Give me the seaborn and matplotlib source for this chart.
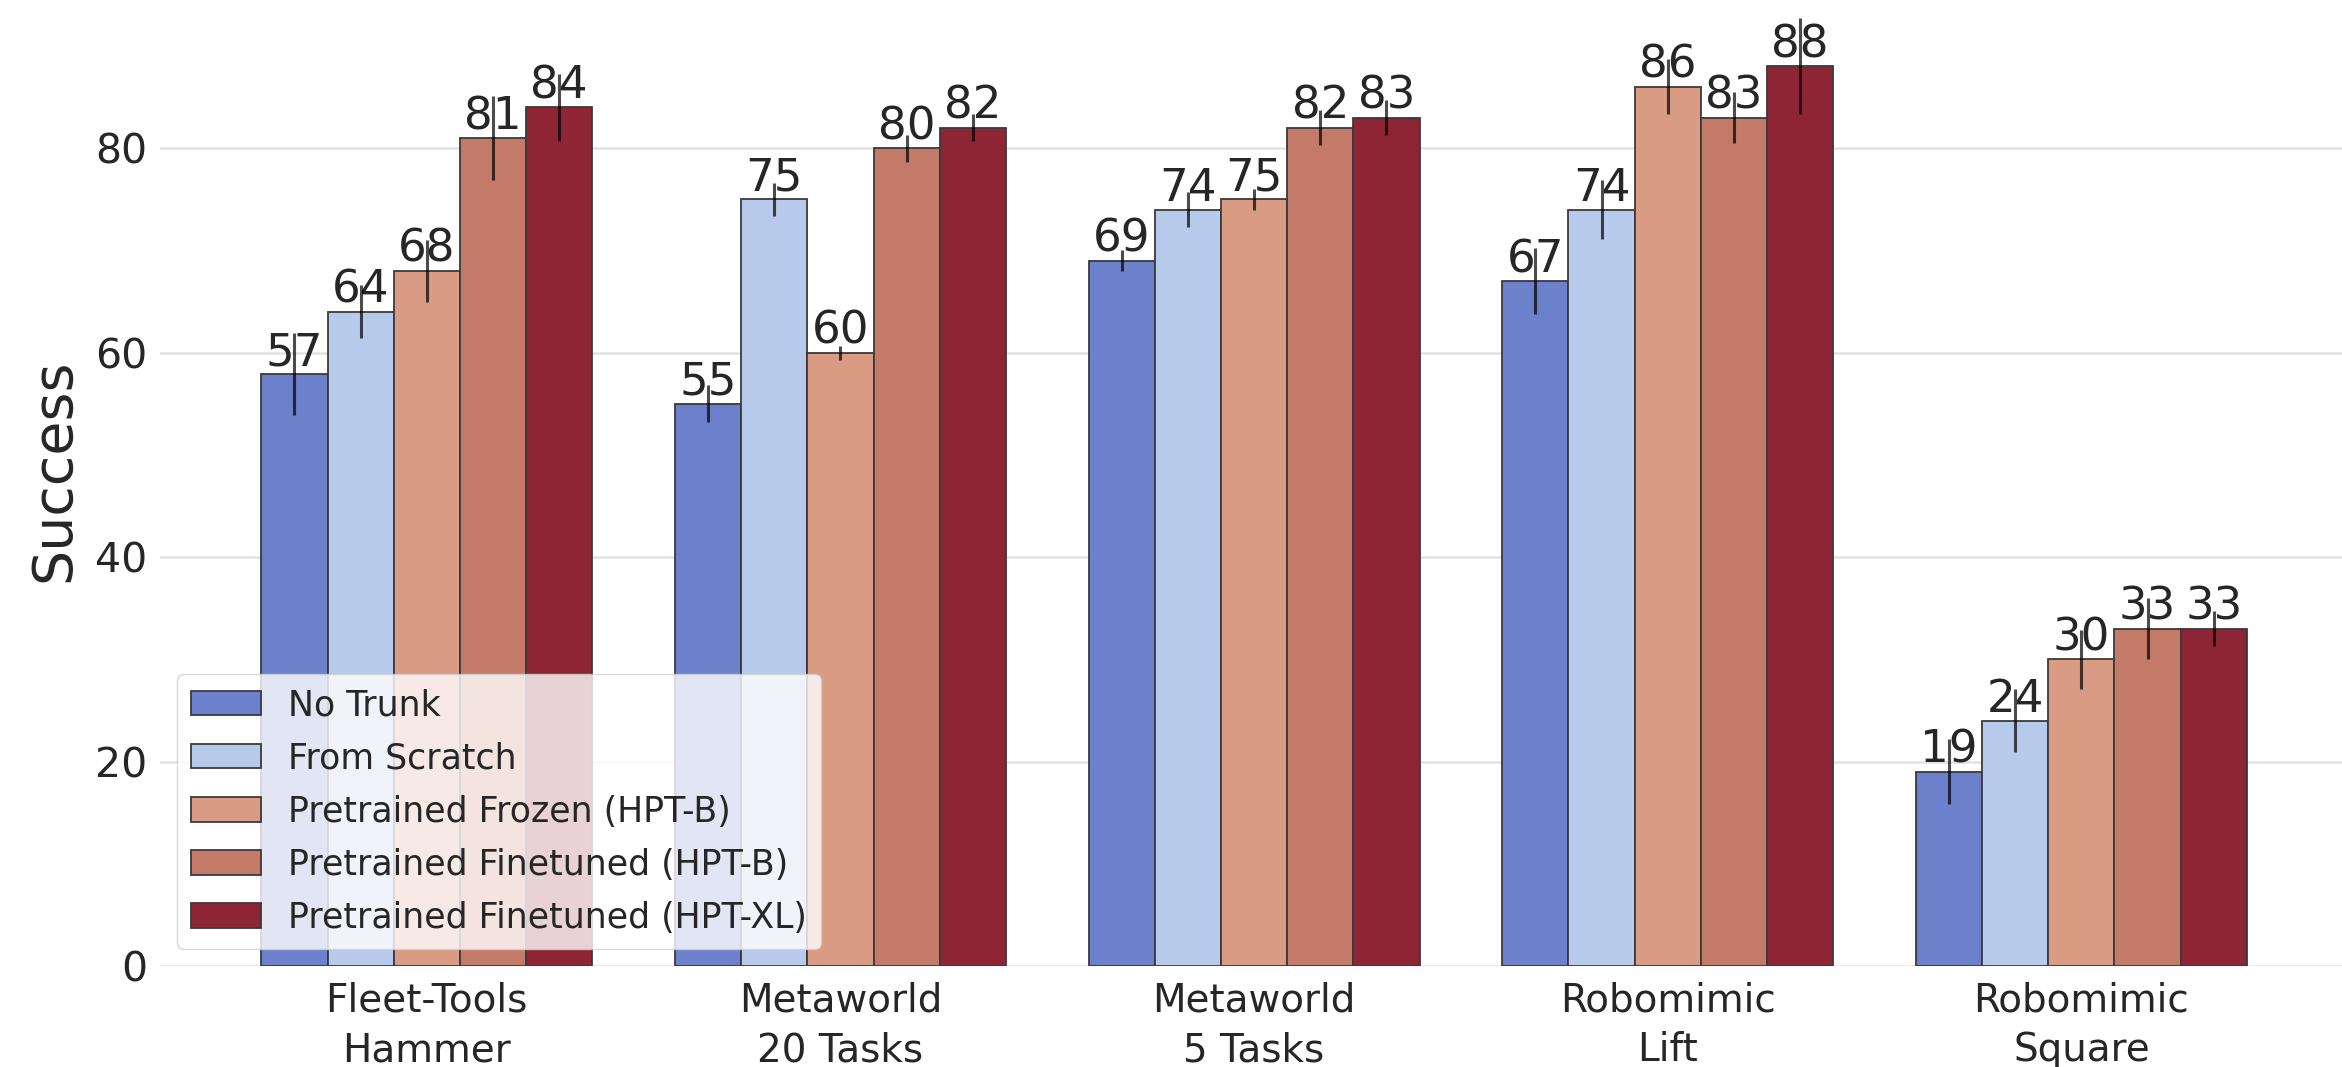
import matplotlib
matplotlib.use("Agg")
import matplotlib.pyplot as plt
import numpy as np
import pandas as pd
import seaborn as sns

# Benchmarks (x categories) and methods (hue levels)
tasks = ["Fleet-Tools\nHammer", "Metaworld\n20 Tasks", "Metaworld\n5 Tasks",
         "Robomimic\nLift", "Robomimic\nSquare"]
methods = ["No Trunk", "From Scratch", "Pretrained Frozen (HPT-B)",
           "Pretrained Finetuned (HPT-B)", "Pretrained Finetuned (HPT-XL)"]

# Mean success per method, one value per task
no_trunk = [57.9, 55, 69, 67, 19]
from_scratch = [64, 75, 74, 74, 24]
frozen_b = [68, 60, 75, 86, 30]
finetuned_b = [81, 80, 82, 83, 33]
finetuned_xl = [84, 82, 83, 88, 33]

# Spread (half-length of the error bar) per method, one value per task
no_trunk_err = [4.0, 1.8, 1.0, 3.2, 3.2]
from_scratch_err = [2.6, 1.6, 1.7, 2.9, 3.1]
frozen_b_err = [3.0, 0.7, 1.0, 2.7, 2.9]
finetuned_b_err = [4.1, 1.3, 1.7, 2.5, 3.0]
finetuned_xl_err = [3.3, 1.3, 1.7, 4.7, 1.7]

colors = ["#6C80CB", "#B8CAEB", "#D99B84", "#C47A68", "#8E2535"]

means = [no_trunk, from_scratch, frozen_b, finetuned_b, finetuned_xl]
errs = [no_trunk_err, from_scratch_err, frozen_b_err, finetuned_b_err, finetuned_xl_err]

df = pd.DataFrame(
    [(t, m, means[j][i]) for j, m in enumerate(methods) for i, t in enumerate(tasks)],
    columns=["task", "method", "success"],
)

sns.set_theme(style="whitegrid")
plt.rcParams["font.family"] = ["DejaVu Sans"]
text_color = "#262626"

fig = plt.figure(figsize=(23.42, 10.67), dpi=100)
ax = fig.add_axes([160 / 2342, 101 / 1067, (2342 - 160) / 2342, 966 / 1067])

sns.barplot(data=df, x="task", y="success", hue="method", order=tasks,
            hue_order=methods, palette=colors, saturation=1, errorbar=None,
            edgecolor="#3a3a3a", linewidth=1.3, width=0.8, ax=ax)

# error bars and value labels on each bar
bar_containers = list(ax.containers)
for j, container in enumerate(bar_containers):
    xs = [p.get_x() + p.get_width() / 2 for p in container.patches]
    hs = [p.get_height() for p in container.patches]
    ax.bar_label(container, fmt=lambda v: f"{int(v)}", padding=0,
                 fontsize=32.5, color=text_color, zorder=5)
    ax.errorbar(xs, hs, yerr=errs[j], fmt="none", ecolor="black", alpha=0.7,
                elinewidth=2.2, capsize=0, zorder=6)

ax.set_xlim(-0.645, 4.63)
ax.set_ylim(0, 94.5)
ax.set_yticks([0, 20, 40, 60, 80])
ax.set_xlabel("")
ax.set_ylabel("Success", fontsize=40, color=text_color)
ax.yaxis.set_label_coords(-0.036, 0.513)
ax.tick_params(axis="y", labelsize=29.5, colors=text_color, length=0, pad=9)
ax.tick_params(axis="x", labelsize=28, colors=text_color, length=0, pad=11)
for lbl in ax.get_xticklabels():
    lbl.set_linespacing(1.4)
ax.grid(axis="x", visible=False)
ax.grid(axis="y", color="#e2e2e2", linewidth=1.8)
ax.set_axisbelow(True)
for s in ax.spines.values():
    s.set_visible(False)

handles, labels = ax.get_legend_handles_labels()
leg = ax.legend(handles, labels, loc="lower left", fontsize=25, frameon=True,
                framealpha=0.8, edgecolor="#d0d0d0", fancybox=True,
                labelspacing=0.55, handlelength=2.0, handleheight=0.7,
                handletextpad=0.8, borderpad=0.4, borderaxespad=0.5)
for t in leg.get_texts():
    t.set_color(text_color)
leg.set_zorder(10)

fig.savefig("out.png", dpi=100)
